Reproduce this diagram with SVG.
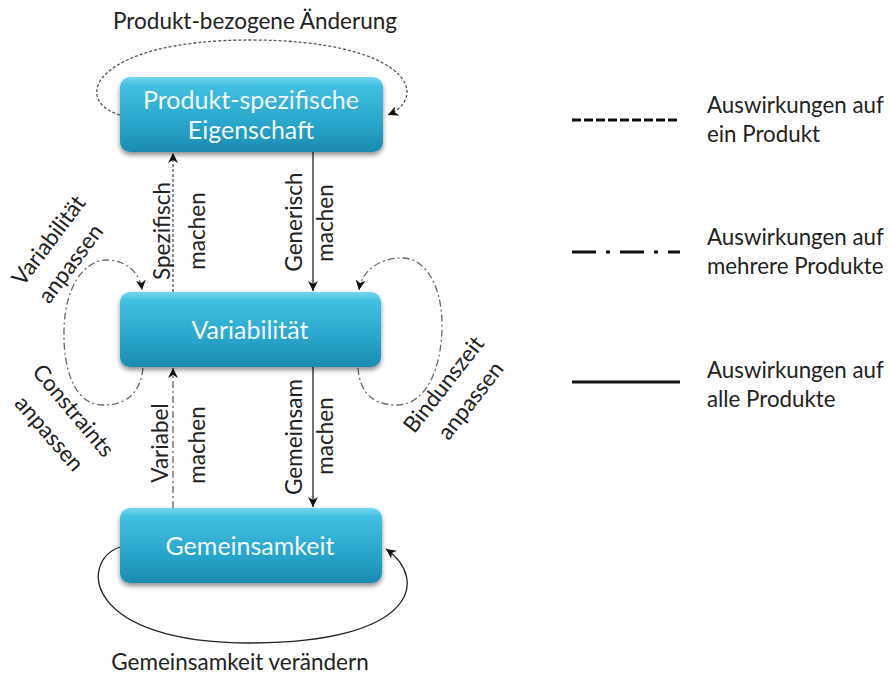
<svg xmlns="http://www.w3.org/2000/svg" width="891" height="677" viewBox="0 0 891 677">
<defs>
<linearGradient id="boxg" x1="0" y1="0" x2="0" y2="1">
<stop offset="0" stop-color="#72d8f0"/>
<stop offset="0.12" stop-color="#41bfe1"/>
<stop offset="0.6" stop-color="#2aa6cc"/>
<stop offset="1" stop-color="#1a8bb0"/>
</linearGradient>
<filter id="shadow" x="-10%" y="-10%" width="120%" height="140%">
<feGaussianBlur in="SourceAlpha" stdDeviation="2.5"/>
<feOffset dx="0" dy="3" result="b"/>
<feComponentTransfer><feFuncA type="linear" slope="0.45"/></feComponentTransfer>
<feMerge><feMergeNode/><feMergeNode in="SourceGraphic"/></feMerge>
</filter>
<marker id="arr" markerUnits="userSpaceOnUse" markerWidth="12" markerHeight="10" refX="10" refY="5" orient="auto">
<path d="M0,0 L10,5 L0,10 L3,5 z" fill="#111"/>
</marker>
</defs>
<style>
.box{fill:url(#boxg);filter:url(#shadow);}
.bt{font-family:Lato,"Open Sans",sans-serif;font-size:25px;fill:#f2fbfd;text-anchor:middle;}
.lbl{font-family:Lato,"Open Sans",sans-serif;font-size:22.5px;fill:#222;text-anchor:middle;}
.lg{font-family:Lato,"Open Sans",sans-serif;font-size:22.3px;fill:#222;}
.c{fill:none;stroke-width:1.3;}
.solid{stroke:#222;}
.dash{stroke:#555;stroke-dasharray:3 2;}
.dd{stroke:#666;stroke-dasharray:7 3 2 3;}
.lgl{stroke:#111;stroke-width:3;fill:none;}
</style>
<rect width="891" height="677" fill="#ffffff"/>

<g id="connectors">
<path class="c dash" d="M120,115 C70,100 95,40 250,40 C405,40 432,95 388,115" marker-end="url(#arr)"/>
<path class="c solid" d="M120,547 C78,562 85,643 250,643 C415,643 430,580 386,549" marker-end="url(#arr)"/>
<path class="c dash" d="M173,292 L173,153" marker-end="url(#arr)"/>
<path class="c solid" d="M313,152 L313,291" marker-end="url(#arr)"/>
<path class="c dd" d="M173,508 L173,368" marker-end="url(#arr)"/>
<path class="c solid" d="M313,367 L313,507" marker-end="url(#arr)"/>
<path class="c dd" d="M143,368 C140,395 125,405 103,405 C75,405 63,370 64,330 C65,285 85,260 107,260 C125,260 140,272 142,290" marker-end="url(#arr)"/>
<path class="c dd" d="M358,368 C360,395 375,405 397,405 C425,405 442,370 442,325 C442,285 425,258 402,258 C380,258 362,270 359,290" marker-end="url(#arr)"/>
</g>

<g id="node-produkt">
<rect class="box" x="120" y="77" width="263" height="75" rx="10"/>
<text class="bt" x="251" y="109">Produkt-spezifische</text>
<text class="bt" x="251" y="139">Eigenschaft</text>
</g>
<g id="node-variabilitaet">
<rect class="box" x="120" y="292" width="261" height="75" rx="10"/>
<text class="bt" x="250" y="339">Variabilität</text>
</g>
<g id="node-gemeinsamkeit">
<rect class="box" x="120" y="508" width="262" height="75" rx="10"/>
<text class="bt" x="250" y="555">Gemeinsamkeit</text>
</g>

<g id="labels">
<text class="lbl" x="255" y="29">Produkt-bezogene Änderung</text>
<text class="lbl" x="240" y="670">Gemeinsamkeit verändern</text>
<text class="lbl" transform="translate(170,231) rotate(-90)">Spezifisch</text>
<text class="lbl" transform="translate(205,231) rotate(-90)">machen</text>
<text class="lbl" transform="translate(302,222) rotate(-90)">Generisch</text>
<text class="lbl" transform="translate(333,223) rotate(-90)">machen</text>
<text class="lbl" transform="translate(168,443) rotate(-90)">Variabel</text>
<text class="lbl" transform="translate(205,445) rotate(-90)">machen</text>
<text class="lbl" transform="translate(302,437) rotate(-90)">Gemeinsam</text>
<text class="lbl" transform="translate(333,436) rotate(-90)">machen</text>
<text class="lbl" dominant-baseline="central" transform="translate(48,240) rotate(-53)">Variabilität</text>
<text class="lbl" dominant-baseline="central" transform="translate(70,263) rotate(-53)">anpassen</text>
<text class="lbl" dominant-baseline="central" transform="translate(74,410) rotate(50)">Constraints</text>
<text class="lbl" dominant-baseline="central" transform="translate(50,433) rotate(49)">anpassen</text>
<text class="lbl" dominant-baseline="central" transform="translate(443,384) rotate(-52)">Bindunszeit</text>
<text class="lbl" dominant-baseline="central" transform="translate(470,400) rotate(-52)">anpassen</text>
</g>

<g id="legend">
<line class="lgl" x1="572" y1="120" x2="680" y2="120" stroke-dasharray="9 3"/>
<line class="lgl" x1="572" y1="252" x2="680" y2="252" stroke-dasharray="24 10 4 10"/>
<line class="lgl" x1="572" y1="382" x2="680" y2="382"/>
<text class="lg" x="707" y="113">Auswirkungen auf</text>
<text class="lg" x="707" y="142">ein Produkt</text>
<text class="lg" x="707" y="245">Auswirkungen auf</text>
<text class="lg" x="707" y="274">mehrere Produkte</text>
<text class="lg" x="707" y="378">Auswirkungen auf</text>
<text class="lg" x="707" y="407">alle Produkte</text>
</g>
</svg>
